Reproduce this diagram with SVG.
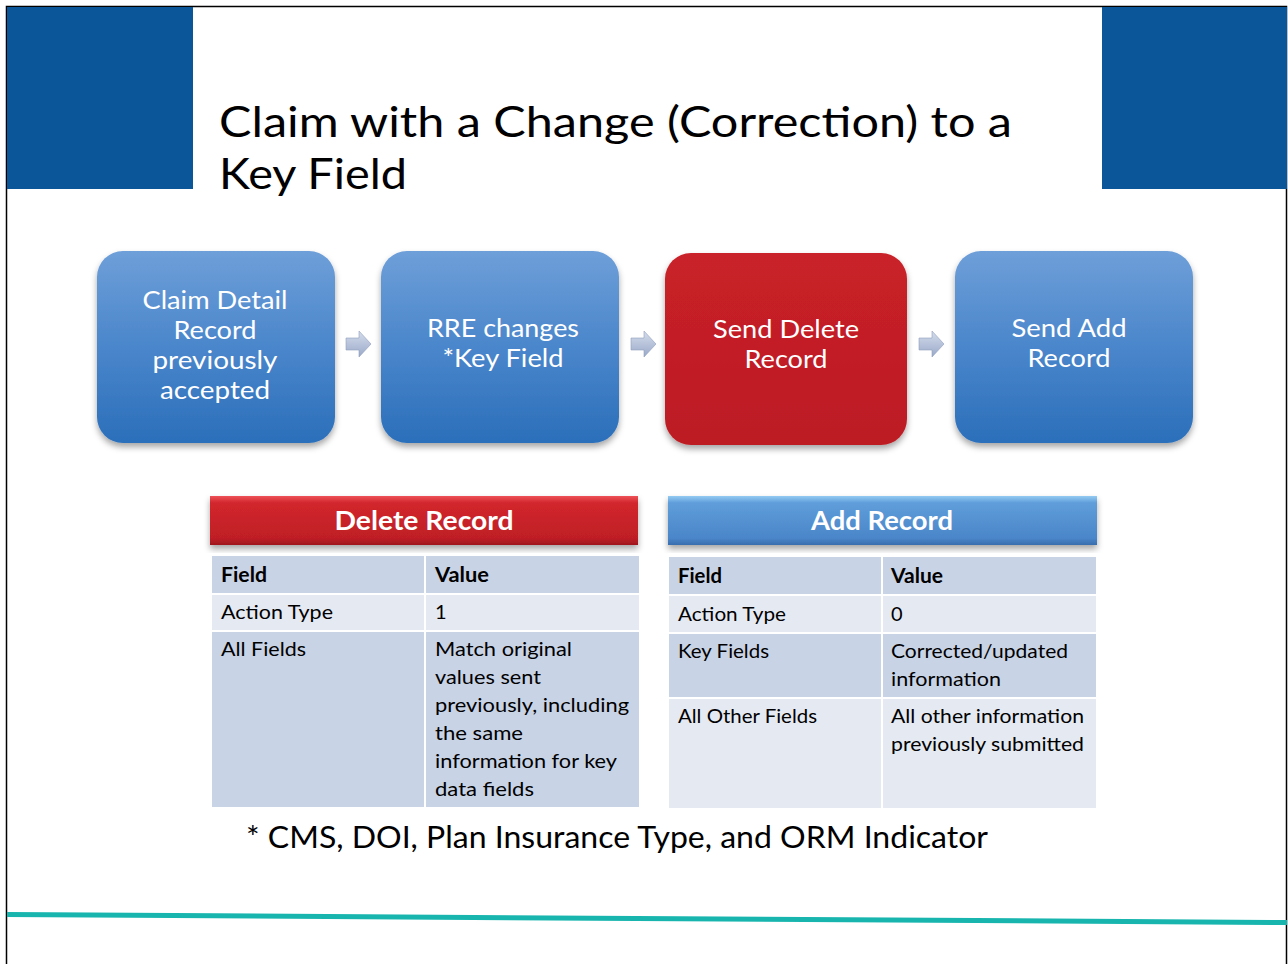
<svg xmlns="http://www.w3.org/2000/svg" width="1288" height="964" viewBox="0 0 1288 964">
<defs>
<linearGradient id="gBlue" x1="0" y1="0" x2="0" y2="1">
<stop offset="0" stop-color="#6E9FD9"/><stop offset="0.5" stop-color="#4A86CB"/><stop offset="1" stop-color="#2B6FBA"/>
</linearGradient>
<linearGradient id="gRed" x1="0" y1="0" x2="0" y2="1">
<stop offset="0" stop-color="#C92129"/><stop offset="1" stop-color="#BC1C24"/>
</linearGradient>
<linearGradient id="gHdrRed" x1="0" y1="0" x2="0" y2="1">
<stop offset="0" stop-color="#EE5358"/><stop offset="0.14" stop-color="#D2262D"/><stop offset="0.86" stop-color="#BF1F26"/><stop offset="1" stop-color="#9E171D"/>
</linearGradient>
<linearGradient id="gHdrBlue" x1="0" y1="0" x2="0" y2="1">
<stop offset="0" stop-color="#94CBF2"/><stop offset="0.14" stop-color="#5F9DDA"/><stop offset="0.86" stop-color="#4A86C9"/><stop offset="1" stop-color="#3A6EAE"/>
</linearGradient>
<linearGradient id="gArrow" x1="0" y1="0" x2="0" y2="1">
<stop offset="0" stop-color="#D5DDEC"/><stop offset="1" stop-color="#9AA9C9"/>
</linearGradient>
<filter id="sh" x="-10%" y="-10%" width="120%" height="125%">
<feDropShadow dx="0" dy="4" stdDeviation="3" flood-color="#000" flood-opacity="0.35"/>
</filter>
<path id="arrow" d="M0,-6 h13 v-7 l12,13 l-12,13 v-7 h-13 z"/>
</defs>
<style>
text{font-family:Lato,"Open Sans","Liberation Sans",sans-serif;}
.title{font-size:43px;fill:#000;}
.box{font-size:24.5px;fill:#fff;text-anchor:middle;}
.hdr{font-size:26px;font-weight:bold;fill:#fff;text-anchor:middle;}
.cell{font-size:20px;fill:#000;}
.cellb{font-size:20px;fill:#000;font-weight:bold;}
.foot{font-size:30px;fill:#000;}
.dark{fill:#C8D3E5;}
.light{fill:#E5EAF2;}
</style>
<rect x="0" y="0" width="1288" height="964" fill="#fff"/>
<path d="M6.5,964 V6.5 H1286.5 V964" fill="none" stroke="#000" stroke-width="1.5"/>
<rect x="7" y="7" width="186" height="182" fill="#0B5699"/>
<rect x="1102" y="7" width="185" height="182" fill="#0B5699"/>
<g id="title">
<text class="title" x="219" y="137" textLength="793" lengthAdjust="spacingAndGlyphs">Claim with a Change (Correction) to a</text>
<text class="title" x="219" y="189" textLength="188" lengthAdjust="spacingAndGlyphs">Key Field</text>
</g>
<g id="connectors" fill="url(#gArrow)" stroke="#8E9DBD" stroke-width="0.6">
<use href="#arrow" x="346" y="344"/>
<use href="#arrow" x="631" y="344"/>
<use href="#arrow" x="919" y="344"/>
</g>
<g id="n1">
<rect x="97" y="251" width="238" height="192" rx="26" fill="url(#gBlue)" filter="url(#sh)"/>
<text class="box" x="215" y="309" textLength="145" lengthAdjust="spacingAndGlyphs">Claim Detail</text>
<text class="box" x="215" y="339" textLength="83" lengthAdjust="spacingAndGlyphs">Record</text>
<text class="box" x="215" y="369" textLength="125" lengthAdjust="spacingAndGlyphs">previously</text>
<text class="box" x="215" y="399" textLength="110" lengthAdjust="spacingAndGlyphs">accepted</text>
</g>
<g id="n2">
<rect x="381" y="251" width="238" height="192" rx="26" fill="url(#gBlue)" filter="url(#sh)"/>
<text class="box" x="503" y="337" textLength="152" lengthAdjust="spacingAndGlyphs">RRE changes</text>
<text class="box" x="503" y="367" textLength="121" lengthAdjust="spacingAndGlyphs">*Key Field</text>
</g>
<g id="n3">
<rect x="665" y="253" width="242" height="192" rx="26" fill="url(#gRed)" filter="url(#sh)"/>
<text class="box" x="786" y="338" textLength="146" lengthAdjust="spacingAndGlyphs">Send Delete</text>
<text class="box" x="786" y="368" textLength="83" lengthAdjust="spacingAndGlyphs">Record</text>
</g>
<g id="n4">
<rect x="955" y="251" width="238" height="192" rx="26" fill="url(#gBlue)" filter="url(#sh)"/>
<text class="box" x="1069" y="337" textLength="115" lengthAdjust="spacingAndGlyphs">Send Add</text>
<text class="box" x="1069" y="367" textLength="83" lengthAdjust="spacingAndGlyphs">Record</text>
</g>
<g id="deleteTable">
<rect x="210" y="496" width="428" height="49" fill="url(#gHdrRed)" filter="url(#sh)"/>
<text class="hdr" x="424" y="530" textLength="179" lengthAdjust="spacingAndGlyphs">Delete Record</text>
<rect class="dark" x="212" y="556" width="212" height="37"/>
<rect class="dark" x="426" y="556" width="213" height="37"/>
<rect class="light" x="212" y="595" width="212" height="35"/>
<rect class="light" x="426" y="595" width="213" height="35"/>
<rect class="dark" x="212" y="632" width="212" height="175"/>
<rect class="dark" x="426" y="632" width="213" height="175"/>
<text class="cellb" x="221" y="582" textLength="46" lengthAdjust="spacingAndGlyphs">Field</text>
<text class="cellb" x="435" y="582" textLength="54" lengthAdjust="spacingAndGlyphs">Value</text>
<text class="cell" x="221" y="619" textLength="112" lengthAdjust="spacingAndGlyphs">Action Type</text>
<text class="cell" x="435" y="619">1</text>
<text class="cell" x="221" y="656" textLength="85" lengthAdjust="spacingAndGlyphs">All Fields</text>
<text class="cell" x="435" y="656" textLength="137" lengthAdjust="spacingAndGlyphs">Match original</text>
<text class="cell" x="435" y="684" textLength="106" lengthAdjust="spacingAndGlyphs">values sent</text>
<text class="cell" x="435" y="712" textLength="194" lengthAdjust="spacingAndGlyphs">previously, including</text>
<text class="cell" x="435" y="740" textLength="88" lengthAdjust="spacingAndGlyphs">the same</text>
<text class="cell" x="435" y="768" textLength="182" lengthAdjust="spacingAndGlyphs">information for key</text>
<text class="cell" x="435" y="796" textLength="99" lengthAdjust="spacingAndGlyphs">data fields</text>
</g>
<g id="addTable">
<rect x="668" y="496" width="429" height="49" fill="url(#gHdrBlue)" filter="url(#sh)"/>
<text class="hdr" x="882" y="530" textLength="142" lengthAdjust="spacingAndGlyphs">Add Record</text>
<rect class="dark" x="669" y="557" width="212" height="37"/>
<rect class="dark" x="883" y="557" width="213" height="37"/>
<rect class="light" x="669" y="596" width="212" height="36"/>
<rect class="light" x="883" y="596" width="213" height="36"/>
<rect class="dark" x="669" y="634" width="212" height="63"/>
<rect class="dark" x="883" y="634" width="213" height="63"/>
<rect class="light" x="669" y="699" width="212" height="109"/>
<rect class="light" x="883" y="699" width="213" height="109"/>
<text class="cellb" x="678" y="583" textLength="44" lengthAdjust="spacingAndGlyphs">Field</text>
<text class="cellb" x="891" y="583" textLength="52" lengthAdjust="spacingAndGlyphs">Value</text>
<text class="cell" x="678" y="621" textLength="108" lengthAdjust="spacingAndGlyphs">Action Type</text>
<text class="cell" x="891" y="621">0</text>
<text class="cell" x="678" y="658" textLength="91" lengthAdjust="spacingAndGlyphs">Key Fields</text>
<text class="cell" x="891" y="658" textLength="177" lengthAdjust="spacingAndGlyphs">Corrected/updated</text>
<text class="cell" x="891" y="686" textLength="110" lengthAdjust="spacingAndGlyphs">information</text>
<text class="cell" x="678" y="723" textLength="139" lengthAdjust="spacingAndGlyphs">All Other Fields</text>
<text class="cell" x="891" y="723" textLength="193" lengthAdjust="spacingAndGlyphs">All other information</text>
<text class="cell" x="891" y="751" textLength="193" lengthAdjust="spacingAndGlyphs">previously submitted</text>
</g>
<g id="footnote">
<text class="foot" x="246" y="848" textLength="742" lengthAdjust="spacingAndGlyphs">* CMS, DOI, Plan Insurance Type, and ORM Indicator</text>
</g>
<path d="M7,914.5 L1287,922.5" stroke="#17B5AE" stroke-width="5" fill="none"/>
</svg>
